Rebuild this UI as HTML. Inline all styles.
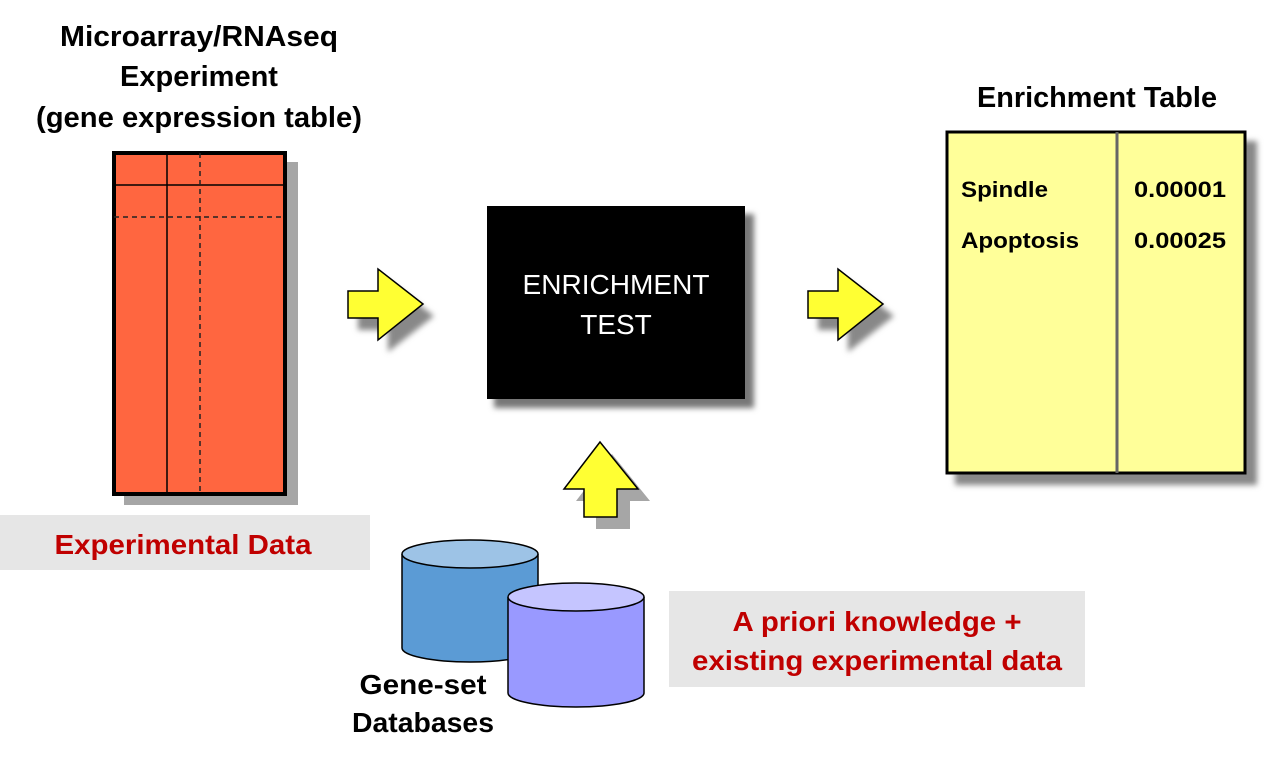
<!DOCTYPE html>
<html><head><meta charset="utf-8"><style>
html,body{margin:0;padding:0;background:#fff;}
svg{display:block;}
text{font-family:"Liberation Sans",sans-serif;}
</style></head><body>
<svg width="1286" height="764" viewBox="0 0 1286 764" xmlns="http://www.w3.org/2000/svg">
<defs>
<filter id="blur" x="-20%" y="-20%" width="140%" height="140%"><feGaussianBlur stdDeviation="3"/></filter>
</defs>
<g font-weight="bold" font-size="29" text-anchor="middle" fill="#000">
<text x="199" y="46" textLength="278" lengthAdjust="spacingAndGlyphs">Microarray/RNAseq</text>
<text x="199" y="86">Experiment</text>
<text x="199" y="127" textLength="326" lengthAdjust="spacingAndGlyphs">(gene expression table)</text>
<text x="1097" y="107" textLength="240" lengthAdjust="spacingAndGlyphs">Enrichment Table</text>
</g>
<rect x="124" y="162" width="174" height="343" fill="#a6a6a6"/>
<rect x="114" y="153" width="171" height="341" fill="#FF6640" stroke="#000" stroke-width="4"/>
<line x1="114" y1="185" x2="285" y2="185" stroke="#000" stroke-width="1.5"/>
<line x1="167" y1="153" x2="167" y2="494" stroke="#000" stroke-width="1.5"/>
<line x1="200" y1="153" x2="200" y2="494" stroke="#222" stroke-width="1.5" stroke-dasharray="5,4"/>
<line x1="114" y1="217" x2="285" y2="217" stroke="#222" stroke-width="1.5" stroke-dasharray="5,4"/>
<rect x="0" y="515" width="370" height="55" fill="#e6e6e6"/>
<text x="183" y="554" font-size="28" font-weight="bold" fill="#c00000" text-anchor="middle" textLength="257" lengthAdjust="spacingAndGlyphs">Experimental Data</text>
<polygon points="358,303 388,303 388,281 434,316 388,352 388,330 358,330" fill="#888" filter="url(#blur)"/>
<polygon points="348,291 378,291 378,269 423,304 378,340 378,318 348,318" fill="#ffff33" stroke="#000" stroke-width="1.5"/>
<polygon points="818,303 848,303 848,281 894,316 848,352 848,330 818,330" fill="#888" filter="url(#blur)"/>
<polygon points="808,291 838,291 838,269 883,304 838,340 838,318 808,318" fill="#ffff33" stroke="#000" stroke-width="1.5"/>
<rect x="494" y="214" width="260" height="194" fill="#777" filter="url(#blur)"/>
<rect x="487" y="206" width="258" height="193" fill="#000"/>
<text x="616" y="294" font-size="28" fill="#fff" text-anchor="middle" textLength="187" lengthAdjust="spacingAndGlyphs">ENRICHMENT</text>
<text x="616" y="334" font-size="28" fill="#fff" text-anchor="middle">TEST</text>
<polygon points="612,454 650,501 630,501 630,529 596,529 596,501 576,501" fill="#a6a6a6"/>
<polygon points="600,442 638,489 617,489 617,517 584,517 584,489 564,489" fill="#ffff33" stroke="#000" stroke-width="1.5"/>
<rect x="955" y="141" width="302" height="344" fill="#888" filter="url(#blur)"/>
<rect x="947" y="132" width="298" height="341" fill="#ffff99" stroke="#000" stroke-width="3"/>
<line x1="1117" y1="132" x2="1117" y2="473" stroke="#666" stroke-width="3"/>
<g font-size="22" font-weight="bold" fill="#000">
<text x="961" y="197" textLength="87" lengthAdjust="spacingAndGlyphs">Spindle</text>
<text x="961" y="248" textLength="118" lengthAdjust="spacingAndGlyphs">Apoptosis</text>
<text x="1134" y="197" textLength="92" lengthAdjust="spacingAndGlyphs">0.00001</text>
<text x="1134" y="248" textLength="92" lengthAdjust="spacingAndGlyphs">0.00025</text>
</g>
<path d="M402,554 L402,648 A68,14 0 0 0 538,648 L538,554" fill="#5b9bd5" stroke="#000" stroke-width="1.5"/>
<ellipse cx="470" cy="554" rx="68" ry="14" fill="#9dc3e6" stroke="#000" stroke-width="1.5"/>
<path d="M508,597 L508,693 A68,14 0 0 0 644,693 L644,597" fill="#9999ff" stroke="#000" stroke-width="1.5"/>
<ellipse cx="576" cy="597" rx="68" ry="14" fill="#c5c5ff" stroke="#000" stroke-width="1.5"/>
<g font-size="28" font-weight="bold" fill="#000" text-anchor="middle">
<text x="423" y="694" textLength="127" lengthAdjust="spacingAndGlyphs">Gene-set</text>
<text x="423" y="732" textLength="142" lengthAdjust="spacingAndGlyphs">Databases</text>
</g>
<rect x="669" y="591" width="416" height="96" fill="#e6e6e6"/>
<g font-size="28" font-weight="bold" fill="#c00000" text-anchor="middle">
<text x="877" y="631" textLength="289" lengthAdjust="spacingAndGlyphs">A priori knowledge +</text>
<text x="877" y="670" textLength="370" lengthAdjust="spacingAndGlyphs">existing experimental data</text>
</g>
</svg>
</body></html>
